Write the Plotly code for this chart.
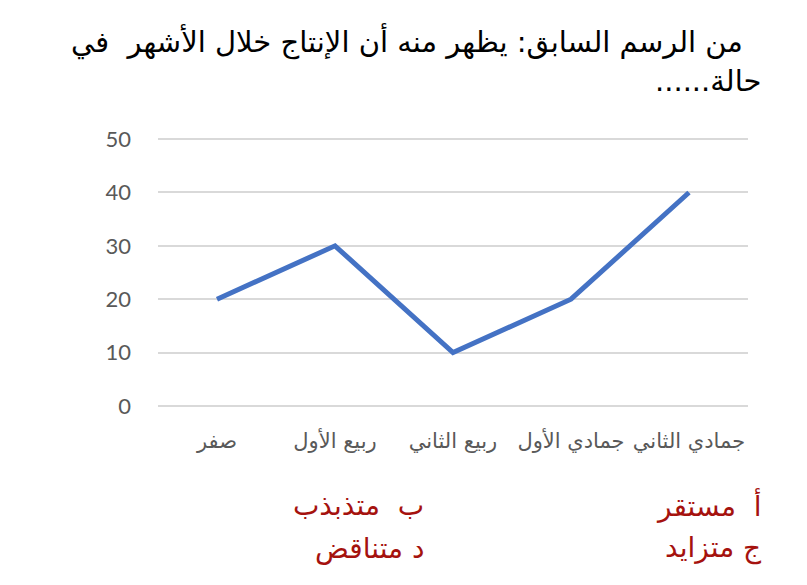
import plotly.graph_objects as go

categories = ["صفر", "ربيع الأول", "ربيع الثاني", "جمادي الأول", "جمادي الثاني"]
values = [20, 30, 10, 20, 40]
y_ticks = [0, 10, 20, 30, 40, 50]
title_lines = ["من الرسم السابق: يظهر منه أن الإنتاج خلال الأشهر  في", "\u200Fحالة......\u200F"]
options_right = ["أ  مستقر", "ج متزايد"]
options_mid = ["ب  متذبذب", "د متناقض"]

fig = go.Figure()
fig.add_trace(go.Scatter(
    x=list(range(len(categories))), y=values, mode="lines",
    line=dict(color="#4472C4", width=5), hoverinfo="skip"))

W, H = 807, 585
L, R, T, B = 158, 59, 137, 177
YMIN, YMAX = -0.4, 50.4

fig.update_layout(
    width=W, height=H, margin=dict(l=L, r=R, t=T, b=B),
    paper_bgcolor="white", plot_bgcolor="white", showlegend=False,
    font=dict(family="DejaVu Sans, Noto Sans, sans-serif"),
)
fig.update_xaxes(
    range=[-0.5, len(categories) - 0.5],
    tickvals=list(range(len(categories))), ticktext=categories,
    showgrid=False, zeroline=False, showline=False, ticks="", ticklabelstandoff=18,
    tickfont=dict(size=21, color="#595959"),
)
fig.update_yaxes(
    range=[YMIN, YMAX], tickvals=y_ticks, showgrid=True, gridcolor="#D9D9D9", gridwidth=1.5,
    zeroline=False, showline=False, ticks="", ticklabelstandoff=26,
    tickfont=dict(size=22, color="#595959", family="Lato, Open Sans, sans-serif"),
)

def px_to_paper_y(py):
    return 1 - (py - T) / (H - T - B)

def px_to_paper_x(px):
    return (px - L) / (W - L - R)

fig.add_annotation(text=title_lines[0], xref="paper", yref="paper",
                   x=px_to_paper_x(745), y=px_to_paper_y(41), xanchor="right", yanchor="middle",
                   showarrow=False, font=dict(size=29, color="black"))
fig.add_annotation(text=title_lines[1], xref="paper", yref="paper",
                   x=px_to_paper_x(763), y=px_to_paper_y(81), xanchor="right", yanchor="middle",
                   showarrow=False, font=dict(size=29, color="black"))
for i, t in enumerate(options_right):
    fig.add_annotation(text=t, xref="paper", yref="paper",
                       x=px_to_paper_x(764), y=px_to_paper_y(505 + 43 * i), xanchor="right", yanchor="middle",
                       showarrow=False, font=dict(size=28, color="#A5120E"))
for i, t in enumerate(options_mid):
    fig.add_annotation(text=t, xref="paper", yref="paper",
                       x=px_to_paper_x(426), y=px_to_paper_y(505 + 43 * i), xanchor="right", yanchor="middle",
                       showarrow=False, font=dict(size=28, color="#A5120E"))

fig.write_html("out.html")
